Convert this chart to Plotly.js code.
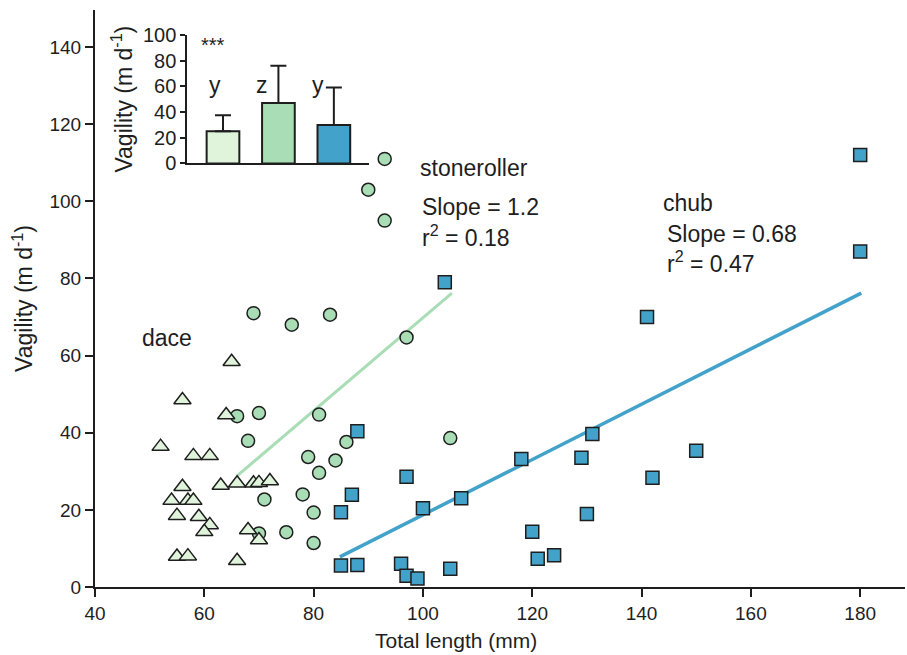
<!DOCTYPE html>
<html>
<head>
<meta charset="utf-8">
<script src="https://cdn.plot.ly/plotly-3.0.1.min.js"></script>
<style>html,body{margin:0;padding:0;background:#fff;}#chart{width:907px;height:655px;}</style>
</head>
<body>
<div id="chart"></div>
<script>
// ---- Data ----
const daceX = [65, 56, 64, 52, 58, 61, 63, 66, 69, 70, 72, 56, 54, 57, 58, 55, 59, 61, 60, 68, 70, 55, 57, 66];
const daceY = [58.4, 48.5, 44.6, 36.4, 34, 34, 26.3, 26.9, 26.9, 27, 27.5, 26, 22.4, 22.4, 22.4, 18.5, 18.2, 16.1, 14.3, 14.8, 12.2, 7.9, 8, 6.8];

const stoneX = [93, 90, 93, 69, 76, 83, 97, 66, 70, 81, 68, 86, 105, 79, 84, 81, 71, 78, 80, 70, 75, 80];
const stoneY = [111, 103, 95, 71, 68, 70.6, 64.7, 44.3, 45.1, 44.7, 37.9, 37.6, 38.6, 33.7, 32.8, 29.6, 22.7, 24, 19.3, 13.9, 14.2, 11.4];

const chubX = [104, 180, 180, 141, 88, 150, 118, 131, 129, 142, 130, 120, 121, 124, 97, 87, 85, 100, 107, 85, 88, 96, 97, 99, 105];
const chubY = [79, 112, 87, 70, 40.4, 35.3, 33.2, 39.7, 33.5, 28.3, 18.9, 14.3, 7.3, 8.2, 28.6, 23.9, 19.4, 20.4, 23, 5.6, 5.7, 6, 2.9, 2.2, 4.7];

const stoneFitX = [66, 105.3];
const stoneFitY = [28.8, 76.2];
const chubFitX = [84.8, 180.2];
const chubFitY = [7.8, 76.2];

const insetCats = [0, 1, 2];
const insetMeans = [25, 47, 30];
const insetErr = [12.5, 29, 29];
const insetLetters = ['y', 'z', 'y'];

const xTicks = [40, 60, 80, 100, 120, 140, 160, 180];
const yTicks = [0, 20, 40, 60, 80, 100, 120, 140];
const insetYTicks = [0, 20, 40, 60, 80, 100];

const cDace = '#e0f3db', cStone = '#a8ddb5', cChub = '#43a2ca';
const ink = '#1e1e1e';
const FONT = 'Liberation Sans, Arial, sans-serif';

const mline = {color: ink, width: 1.5};

const traces = [
  {x: stoneFitX, y: stoneFitY, mode: 'lines', line: {color: cStone, width: 3}, xaxis: 'x', yaxis: 'y', hoverinfo: 'skip'},
  {x: chubFitX, y: chubFitY, mode: 'lines', line: {color: cChub, width: 3.5}, xaxis: 'x', yaxis: 'y', hoverinfo: 'skip'},
  {x: stoneX, y: stoneY, mode: 'markers', marker: {symbol: 'circle', size: 13, color: cStone, line: mline}, cliponaxis: false},
  {x: daceX, y: daceY, mode: 'markers', marker: {symbol: 'triangle-up', size: 15, color: cDace, line: mline}, cliponaxis: false},
  {x: chubX, y: chubY, mode: 'markers', marker: {symbol: 'square', size: 13, color: cChub, line: mline}, cliponaxis: false},
  {x: insetCats, y: insetMeans, type: 'bar', xaxis: 'x2', yaxis: 'y2', width: 0.59,
   marker: {color: [cDace, cStone, cChub], line: {color: ink, width: 2}},
   error_y: {type: 'data', array: insetErr, arrayminus: [0, 0, 0], symmetric: false, color: ink, thickness: 2, width: 8}}
];

const annotations = [
  {text: 'stoneroller', x: 99.1, y: 108.6},
  {text: 'Slope = 1.2', x: 99.5, y: 98.5},
  {text: 'r<sup>2</sup> = 0.18', x: 99.5, y: 91.0},
  {text: 'chub', x: 143.6, y: 99.6},
  {text: 'Slope = 0.68', x: 144.3, y: 91.5},
  {text: 'r<sup>2</sup> = 0.47', x: 144.3, y: 84.3},
  {text: 'dace', x: 48.2, y: 64.6}
].map(a => Object.assign({xref: 'x', yref: 'y', xanchor: 'left', yanchor: 'middle', showarrow: false,
  font: {family: FONT, size: 23, color: ink}}, a));

const letterX = [-0.14, 0.70, 1.71];
insetLetters.forEach((t, i) => annotations.push({text: t, x: letterX[i], y: 61, xref: 'x2', yref: 'y2',
  showarrow: false, xanchor: 'center', yanchor: 'middle', font: {family: FONT, size: 23, color: ink}}));
annotations.push({text: '***', x: -0.18, y: 92, xref: 'x2', yref: 'y2', showarrow: false,
  xanchor: 'center', yanchor: 'middle', font: {family: FONT, size: 20, color: ink}});
// x-axis title (offset left of centre as in the reference)
annotations.push({text: 'Total length (mm)', x: 0.446, y: -0.092, xref: 'paper', yref: 'paper', showarrow: false,
  xanchor: 'center', yanchor: 'middle', font: {family: FONT, size: 21, color: ink}});

const axisCommon = {showgrid: false, zeroline: false, showline: true, linecolor: ink, linewidth: 2,
  ticks: 'outside', tickcolor: ink, tickwidth: 2, ticklen: 8,
  tickfont: {family: FONT, size: 19, color: ink}};

const layout = {
  width: 907, height: 655,
  margin: {l: 95, r: 2, t: 10, b: 68},
  paper_bgcolor: '#fff', plot_bgcolor: 'rgba(0,0,0,0)',
  showlegend: false,
  xaxis: Object.assign({}, axisCommon, {range: [40, 188.2], tickvals: xTicks, ticktext: xTicks.map(String)}),
  yaxis: Object.assign({}, axisCommon, {range: [0, 149.6], tickvals: yTicks, ticktext: yTicks.map(String),
    title: {text: 'Vagility (m d<sup>-1</sup>)', font: {family: FONT, size: 23, color: ink}, standoff: 10}}),
  xaxis2: {domain: [0.114, 0.338], anchor: 'y2', range: [-0.643, 2.63], showgrid: false, zeroline: false,
    showline: true, linecolor: ink, linewidth: 2, ticks: '', showticklabels: false, fixedrange: true},
  yaxis2: Object.assign({}, axisCommon, {domain: [0.734, 0.957], anchor: 'x2', range: [0, 100], tickvals: insetYTicks,
    ticktext: insetYTicks.map(String), ticklen: 5, tickfont: {family: FONT, size: 20, color: ink},
    title: {text: 'Vagility (m d<sup>-1</sup>)', font: {family: FONT, size: 23, color: ink}, standoff: 4}}),
  annotations: annotations
};

Plotly.newPlot('chart', traces, layout, {displayModeBar: false, staticPlot: true});
</script>
</body>
</html>
